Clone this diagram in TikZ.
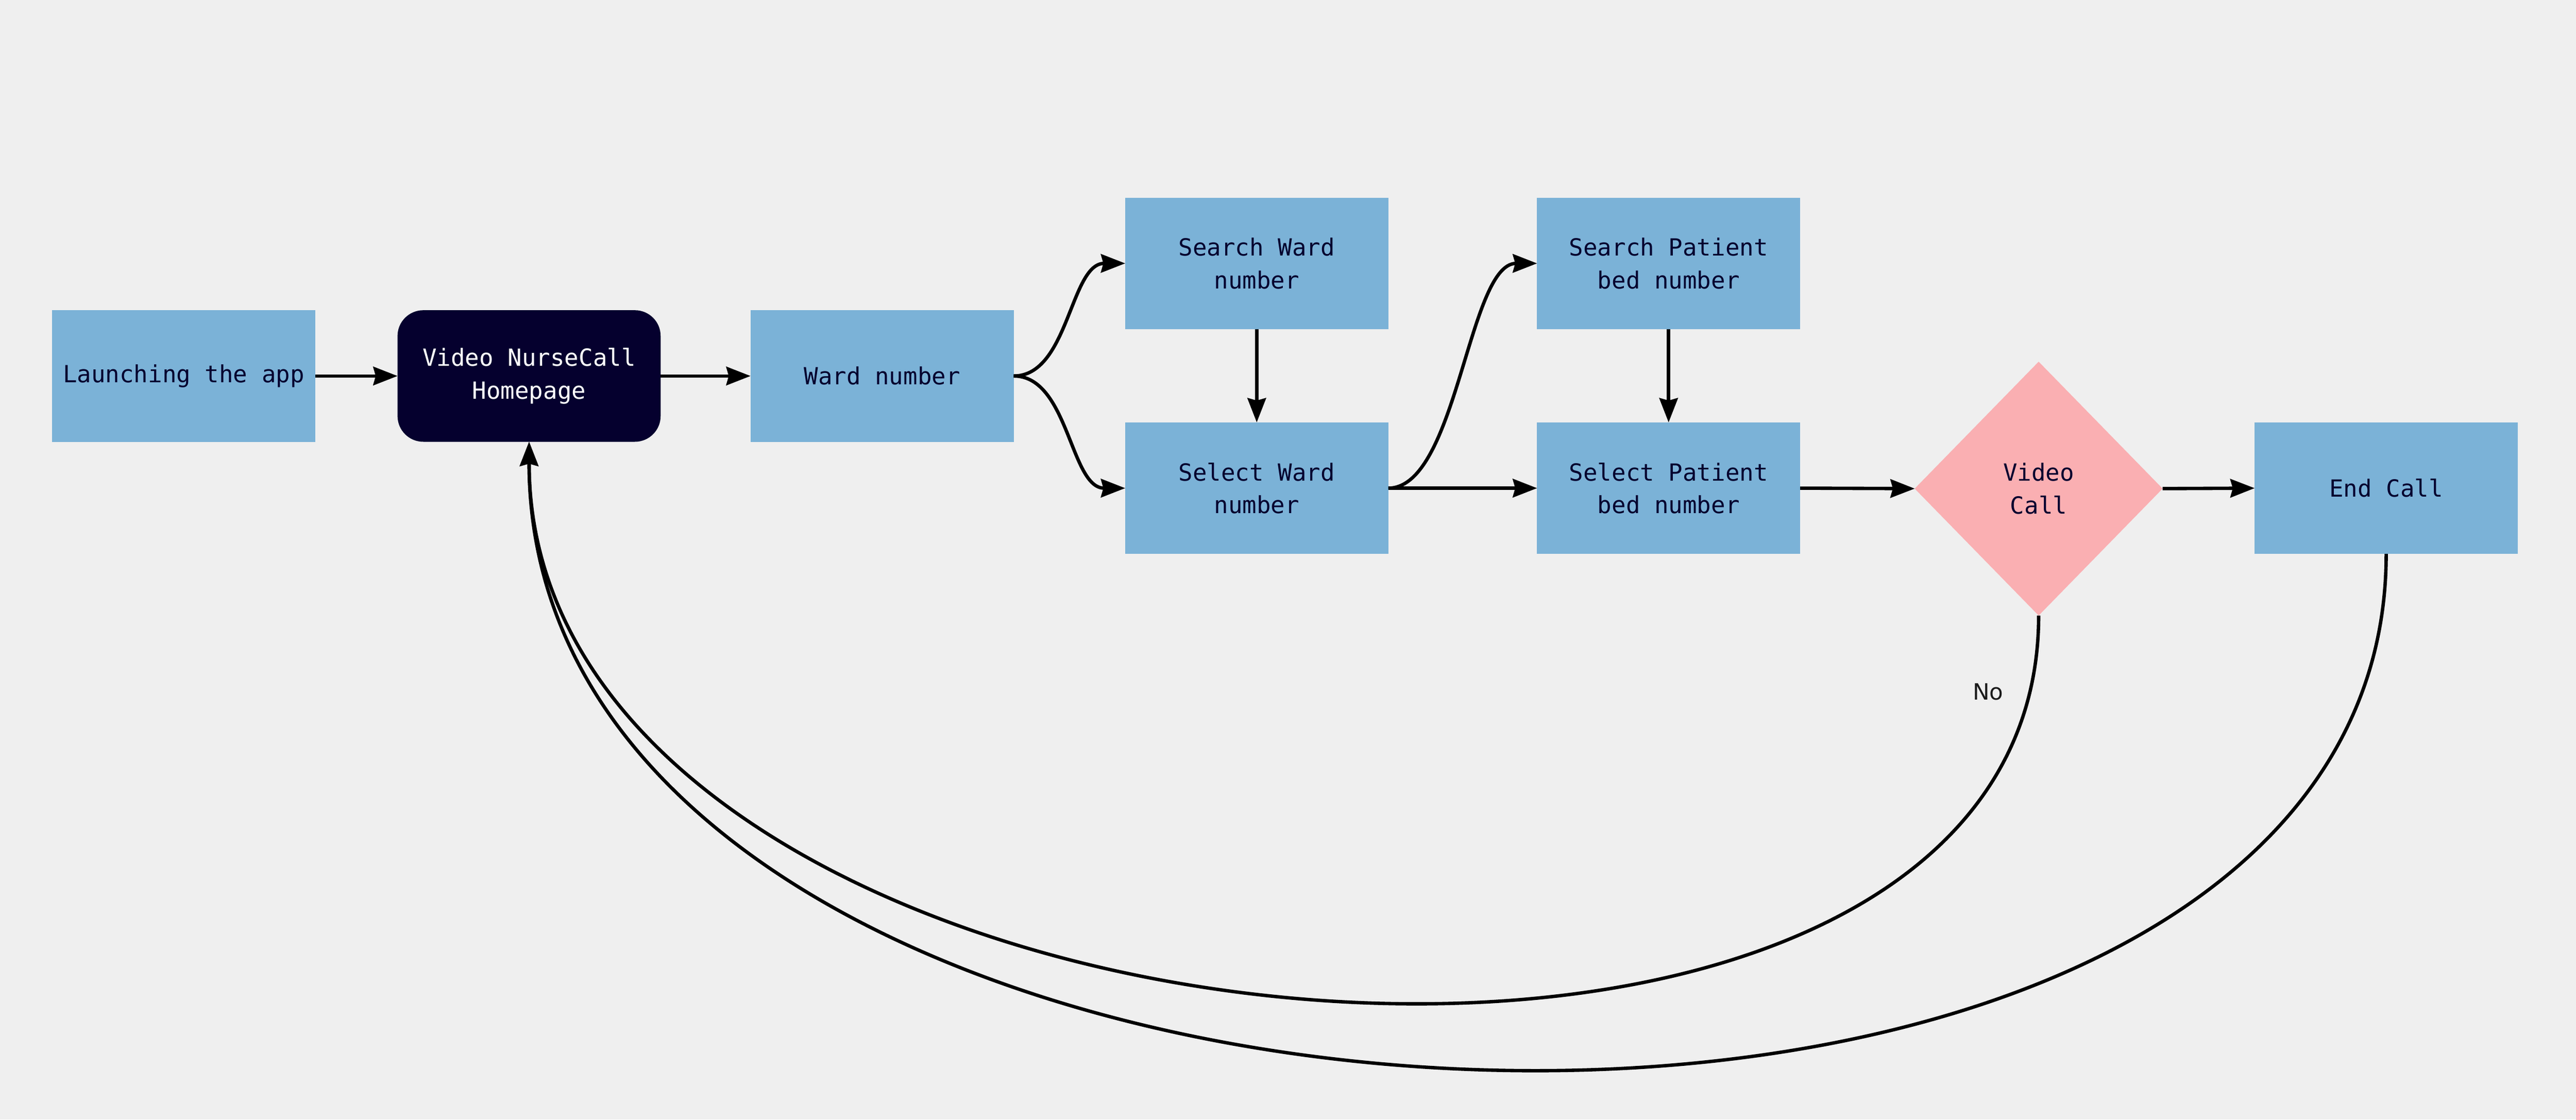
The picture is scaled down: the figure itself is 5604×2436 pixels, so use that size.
\documentclass[tikz,border=0pt]{standalone}
\usepackage{fontspec}
\setmainfont{DejaVu Sans}
\setmonofont{DejaVu Sans Mono}
\usetikzlibrary{shapes.geometric,arrows.meta}
\definecolor{bgc}{HTML}{EFEFEF}
\definecolor{boxblue}{HTML}{7BB2D7}
\definecolor{navy}{HTML}{05002E}
\definecolor{pinkd}{HTML}{FAAFB2}
\definecolor{labelgray}{HTML}{1A1A1A}
\newcommand\boxfont{\ttfamily\fontsize{14.6pt}{20.2pt}\selectfont}
\tikzset{
  stepbox/.style={rectangle, fill=boxblue, minimum width=5.72cm, minimum height=2.86cm,
    inner sep=0pt, outer sep=0pt, align=center, text=navy, font=\boxfont},
  homebox/.style={stepbox, fill=navy, text=white, rounded corners=0.56cm},
  decisionbox/.style={diamond, fill=pinkd, minimum width=5.39cm, minimum height=5.52cm,
    inner sep=0pt, outer sep=0pt, align=center, text=navy, font=\boxfont},
  flow/.style={line width=2.1pt, -{Stealth[length=15pt,width=11.4pt,inset=1.5pt]}},
  edgelabel/.style={text=labelgray, font=\fontsize{13.9pt}{16pt}\selectfont}
}
\begin{document}
\begin{tikzpicture}[x=0.01cm,y=-0.01cm]
\fill[bgc] (0,0) rectangle (5604,2436);
\useasboundingbox (0,0) rectangle (5604,2436);

\node[stepbox] (launch) at (399.5,818) {Launching the app};
\node[homebox] (home) at (1151,818) {Video NurseCall\\Homepage};
\node[stepbox] (ward) at (1919,818) {Ward number};
\node[stepbox] (sward) at (2734,573) {Search Ward\\number};
\node[stepbox] (selward) at (2734,1062) {Select Ward\\number};
\node[stepbox] (spat) at (3630,573) {Search Patient\\bed number};
\node[stepbox] (selpat) at (3630,1062) {Select Patient\\bed number};
\node[decisionbox] (vc) at (4435,1063) {Video\\Call};
\node[stepbox] (endc) at (5191,1062) {End Call};
\node[edgelabel] (nolabel) at (4325,1505) {No};

\draw[flow] (launch.east) -- (home.west);
\draw[flow] (home.east) -- (ward.west);
\draw[flow] (ward.east) .. controls +(120,0) and +(-120,0) .. (sward.west);
\draw[flow] (ward.east) .. controls +(120,0) and +(-120,0) .. (selward.west);
\draw[flow] (sward.south) -- (selward.north);
\draw[flow] (selward.east) .. controls +(150,0) and +(-150,0) .. (spat.west);
\draw[flow] (selward.east) -- (selpat.west);
\draw[flow] (spat.south) -- (selpat.north);
\draw[flow] (selpat.east) -- (vc.west);
\draw[flow] (vc.east) -- (endc.west);
\draw[flow] (vc.south) .. controls +(0,1314) and +(0,1390) .. (home.south);
\draw[flow] (endc.south) .. controls +(0,1610) and +(0,1688) .. (home.south);
\end{tikzpicture}
\end{document}
